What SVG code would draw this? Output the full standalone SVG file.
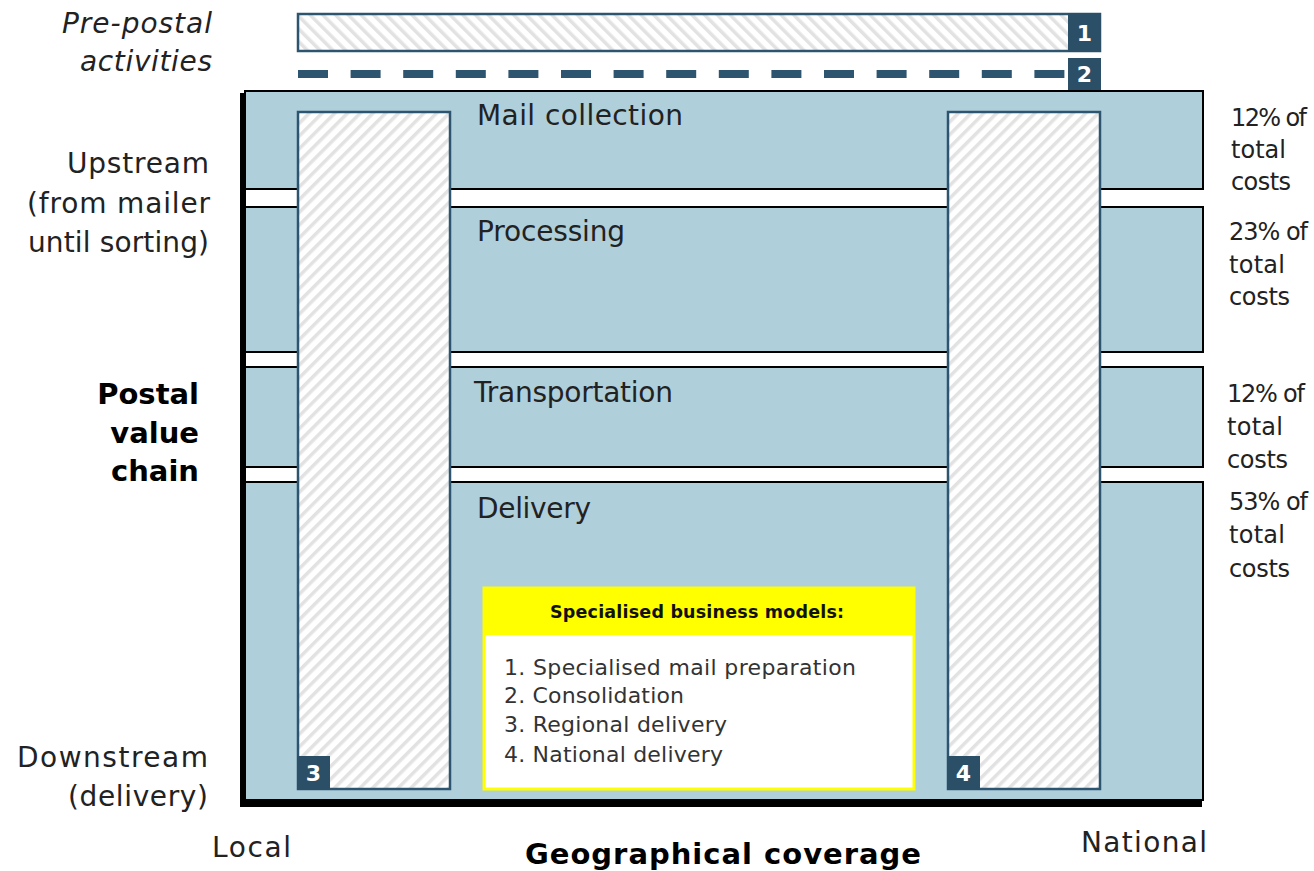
<svg xmlns="http://www.w3.org/2000/svg" width="1314" height="871" viewBox="0 0 1314 871">
<defs>
<pattern id="hatchBack" patternUnits="userSpaceOnUse" width="9" height="9" patternTransform="rotate(-45)">
<rect width="9" height="9" fill="#ffffff"/>
<rect x="0" y="0" width="3.5" height="9" fill="#e2e2e2"/>
</pattern>
<pattern id="hatchFwd" patternUnits="userSpaceOnUse" width="9" height="9" patternTransform="rotate(45)">
<rect width="9" height="9" fill="#ffffff"/>
<rect x="0" y="0" width="3.5" height="9" fill="#e2e2e2"/>
</pattern>
<style>
.band{fill:#afcfdb;stroke:#000;stroke-width:2}
.bar{stroke:#2e5570;stroke-width:2.5}
.badge{fill:#2b4f66}
.badgeT{font-family:"DejaVu Sans",sans-serif;font-weight:bold;font-size:22px;fill:#fff;text-anchor:middle}
.lbl{font-family:"DejaVu Sans",sans-serif;font-size:28px;fill:#222}
.cost{font-family:"DejaVu Sans",sans-serif;font-size:24px;fill:#222}
.side{font-family:"DejaVu Sans",sans-serif;font-size:28px;fill:#222;text-anchor:end}
.heavy{font-family:"DejaVu Sans",sans-serif;font-weight:bold;font-size:29px;fill:#000}
.list{font-family:"DejaVu Sans",sans-serif;font-size:22px;fill:#333}
</style>
</defs>

<g id="axes">
<rect x="240" y="93" width="6" height="714" fill="#000"/>
<rect x="240" y="800" width="962" height="7" fill="#000"/>
</g>

<g id="band-mail-collection">
<rect class="band" x="245" y="91" width="958" height="98"/>
<text class="lbl" x="477" y="125" textLength="206">Mail collection</text>
<text class="cost" x="1231" y="126" textLength="76">12% of</text>
<text class="cost" x="1231" y="158" textLength="55">total</text>
<text class="cost" x="1231" y="190" textLength="60">costs</text>
</g>
<g id="band-processing">
<rect class="band" x="245" y="207" width="958" height="145"/>
<text class="lbl" x="477" y="241" textLength="148">Processing</text>
<text class="cost" x="1229" y="240" textLength="79">23% of</text>
<text class="cost" x="1229" y="273" textLength="56">total</text>
<text class="cost" x="1229" y="305" textLength="61">costs</text>
</g>
<g id="band-transportation">
<rect class="band" x="245" y="367" width="958" height="100"/>
<text class="lbl" x="474" y="402" textLength="199">Transportation</text>
<text class="cost" x="1227" y="402" textLength="78">12% of</text>
<text class="cost" x="1227" y="435" textLength="56">total</text>
<text class="cost" x="1227" y="468" textLength="61">costs</text>
</g>
<g id="band-delivery">
<rect class="band" x="245" y="482" width="958" height="318"/>
<text class="lbl" x="477" y="518" textLength="114">Delivery</text>
<text class="cost" x="1229" y="510" textLength="79">53% of</text>
<text class="cost" x="1229" y="543" textLength="56">total</text>
<text class="cost" x="1229" y="577" textLength="61">costs</text>
</g>

<g id="bar-1">
<rect class="bar" x="298" y="14" width="802" height="37" fill="url(#hatchBack)"/>
<rect class="badge" x="1068" y="13" width="33" height="39"/>
<text class="badgeT" x="1084.5" y="41">1</text>
</g>
<g id="bar-2">
<line x1="298" y1="74" x2="1068" y2="74" stroke="#2e5570" stroke-width="8" stroke-dasharray="30 22.6"/>
<rect class="badge" x="1068" y="58" width="33" height="32"/>
<text class="badgeT" x="1084.5" y="82">2</text>
</g>
<g id="bar-3">
<rect class="bar" x="298" y="112" width="152" height="677" fill="url(#hatchFwd)"/>
<rect class="badge" x="297" y="756" width="33" height="34"/>
<text class="badgeT" x="313.5" y="781">3</text>
</g>
<g id="bar-4">
<rect class="bar" x="948" y="112" width="152" height="677" fill="url(#hatchFwd)"/>
<rect class="badge" x="947" y="756" width="33" height="34"/>
<text class="badgeT" x="963.5" y="781">4</text>
</g>

<g id="legend">
<rect x="484" y="588" width="430" height="201" fill="#ffffff" stroke="#ffff00" stroke-width="3"/>
<rect x="484" y="588" width="430" height="47" fill="#ffff00"/>
<text x="550" y="618" font-family="'DejaVu Sans',sans-serif" font-weight="bold" font-size="17.5" fill="#111" textLength="294">Specialised business models:</text>
<text class="list" x="504" y="675" textLength="352">1. Specialised  mail preparation</text>
<text class="list" x="504" y="703" textLength="180">2. Consolidation</text>
<text class="list" x="504" y="732" textLength="223">3. Regional delivery</text>
<text class="list" x="504" y="762" textLength="219">4. National delivery</text>
</g>

<g id="side-labels">
<text class="side" x="212" y="33" font-style="italic" textLength="150">Pre-postal</text>
<text class="side" x="212" y="71" font-style="italic" textLength="132">activities</text>
<text class="side" x="209" y="173" textLength="142">Upstream</text>
<text class="side" x="210" y="213" textLength="183">(from mailer</text>
<text class="side" x="209" y="252" textLength="181">until sorting)</text>
<text class="heavy" x="199" y="404" text-anchor="end">Postal</text>
<text class="heavy" x="199" y="443" text-anchor="end">value</text>
<text class="heavy" x="199" y="481" text-anchor="end">chain</text>
<text class="side" x="208" y="767" textLength="191">Downstream</text>
<text class="side" x="208" y="806" textLength="140">(delivery)</text>
</g>

<g id="x-axis-labels">
<text class="lbl" x="212" y="857" textLength="79">Local</text>
<text class="lbl" x="1207" y="852" text-anchor="end" textLength="126">National</text>
<text class="heavy" x="525" y="864" font-size="28" textLength="396">Geographical coverage</text>
</g>
</svg>
